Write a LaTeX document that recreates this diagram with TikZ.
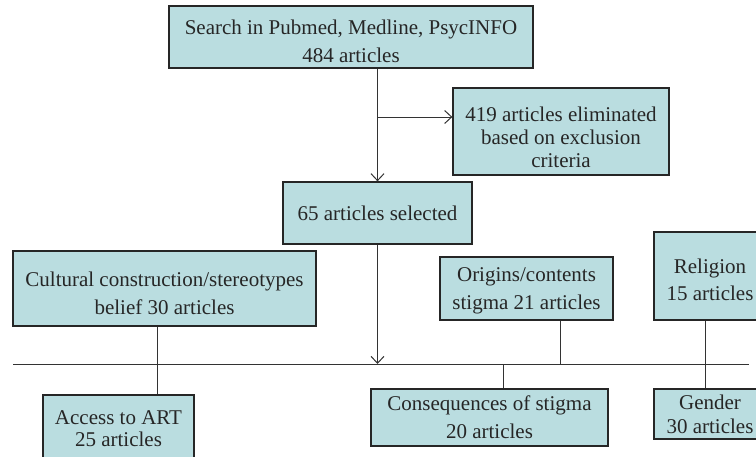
\documentclass[tikz,border=0pt]{standalone}
\usepackage{fontspec}
\setmainfont{Liberation Serif}
\usetikzlibrary{positioning,arrows.meta}
\definecolor{boxfill}{RGB}{186,221,224}
\begin{document}
\begin{tikzpicture}[x=1pt, y=-1pt, boxnode/.style={rectangle, draw=black!85, fill=boxfill, text=black!85, line width=1.3pt, align=center, inner sep=0pt, font=\fontsize{21}{28}\selectfont}, linkline/.style={draw=black!80, line width=1pt}, arrowline/.style={linkline, -{Straight Barb[length=7pt,width=13pt]}}]

        \useasboundingbox (0,0) rectangle (756,456);

        \node[boxnode, minimum width=364pt, minimum height=62pt] (1) at (351,37) {\rule{0pt}{23pt}Search in Pubmed, Medline, PsycINFO\\484 articles};
        \node[boxnode, minimum width=216pt, minimum height=87pt, font=\fontsize{21}{23}\selectfont] (2) at (561,131.5) {\rule{0pt}{27pt}419 articles eliminated\\based on exclusion\\criteria};
        \node[boxnode, minimum width=189pt, minimum height=62pt] (3) at (377.5,213) {65 articles selected};
        \node[boxnode, minimum width=303pt, minimum height=75pt] (4) at (164.5,288.5) {\rule{0pt}{25pt}Cultural construction/stereotypes\\belief 30 articles};
        \node[boxnode, minimum width=173pt, minimum height=63pt] (5) at (526.5,288.5) {\rule{0pt}{19pt}Origins/contents\\stigma 21 articles};
        \node[boxnode, minimum width=151pt, minimum height=67pt, font=\fontsize{21}{22}\selectfont] (6) at (118.5,428.5) {Access to ART\\25 articles};
        \node[boxnode, minimum width=237pt, minimum height=57pt] (7) at (489.5,417.5) {Consequences of stigma\\20 articles};
        \node[boxnode, minimum width=112pt, minimum height=88pt, font=\fontsize{21}{27}\selectfont] (8) at (710,276) {\rule{0pt}{22.5pt}Religion\\15 articles};
        \node[boxnode, minimum width=112pt, minimum height=50pt, font=\fontsize{21}{24}\selectfont] (9) at (710,414) {Gender\\30 articles};

        \coordinate (a) at (377,117);
        \coordinate (L) at (13,364);
        \coordinate (R) at (749,364);

        \draw[arrowline] (1.south -| 3.north) -- (3.north);
        \draw[arrowline] (a) -- (a -| 2.west);
        \draw[linkline] (L) -- (R);
        \draw[arrowline] (3.south) -- (3.south |- L);
        \draw[linkline] ([xshift=-7.5pt]4.south) -- ([xshift=-7.5pt]4.south |- 6.north);
        \draw[linkline] ([xshift=33.5pt]5.south) -- ([xshift=33.5pt]5.south |- L);
        \draw[linkline] ([xshift=13.5pt]7.north |- L) -- ([xshift=13.5pt]7.north);
        \draw[linkline] ([xshift=-5pt]8.south) -- ([xshift=-5pt]8.south |- 9.north);

        \end{tikzpicture}
\end{document}
